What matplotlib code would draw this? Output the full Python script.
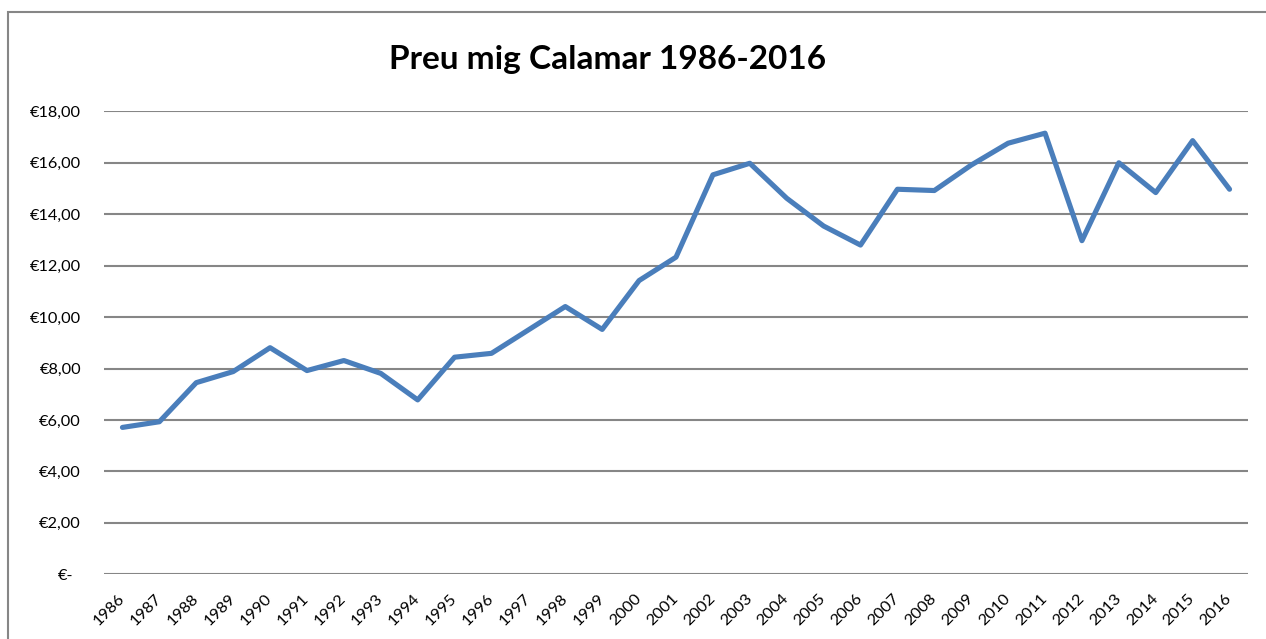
import matplotlib.pyplot as plt
from matplotlib.transforms import ScaledTranslation
from matplotlib.patches import Rectangle

# average squid price per year
years = [str(y) for y in range(1986, 2017)]
prices = [5.71, 5.93, 7.45, 7.88, 8.81, 7.92, 8.31, 7.81, 6.78, 8.44,
          8.59, 9.50, 10.41, 9.52, 11.42, 12.33, 15.53, 15.98, 14.62, 13.54,
          12.80, 14.97, 14.92, 15.91, 16.76, 17.15, 12.97, 16.00, 14.84, 16.86,
          14.97]
yticks = [0, 2, 4, 6, 8, 10, 12, 14, 16, 18]
title = 'Preu mig Calamar 1986-2016'

plt.rcParams['font.family'] = ['Lato', 'DejaVu Sans']

fig = plt.figure(figsize=(12.66, 6.39), dpi=100)
ax = fig.add_axes([0.08215, 0.1013, 0.90363, 0.7245])

# chart frame like the excel chart area border
fig.patches.append(Rectangle((8 / 1266, -0.05), 1.1, 1 - 12 / 639 + 0.05,
                             transform=fig.transFigure, fill=False,
                             edgecolor='#868686', linewidth=1.5))

x = list(range(len(years)))
ax.plot(x, prices, color='#4a7ebb', linewidth=3.7, solid_joinstyle='round',
        solid_capstyle='round', clip_on=False, zorder=3)

ax.set_xlim(-0.5, len(years) - 0.5)
ax.set_ylim(0, 18)
ax.set_yticks(yticks)
ax.set_yticklabels(['€-' if v == 0 else '€{:.2f}'.format(v).replace('.', ',') for v in yticks])
ax.set_xticks(x)
ax.set_xticklabels(years, rotation=45, ha='right', va='center', rotation_mode='anchor')
ax.tick_params(axis='y', length=0, pad=16.5, labelsize=11.8, labelcolor='black')
ax.tick_params(axis='x', length=0, pad=16, labelsize=11.8, labelcolor='black')

# zero label sits further left in the accounting format
for lbl in ax.get_yticklabels():
    if lbl.get_text() == '€-':
        lbl.set_transform(lbl.get_transform() + ScaledTranslation(-8 / 100, 0, fig.dpi_scale_trans))

ax.grid(axis='y', color='#868686', linewidth=1.5)
ax.set_axisbelow(True)
for s in ax.spines.values():
    s.set_visible(False)

fig.text(607.5 / 1266, 1 - 69 / 639, title, ha='center', va='baseline',
         fontsize=24, fontweight='bold')

fig.savefig('out.png', dpi=100)
